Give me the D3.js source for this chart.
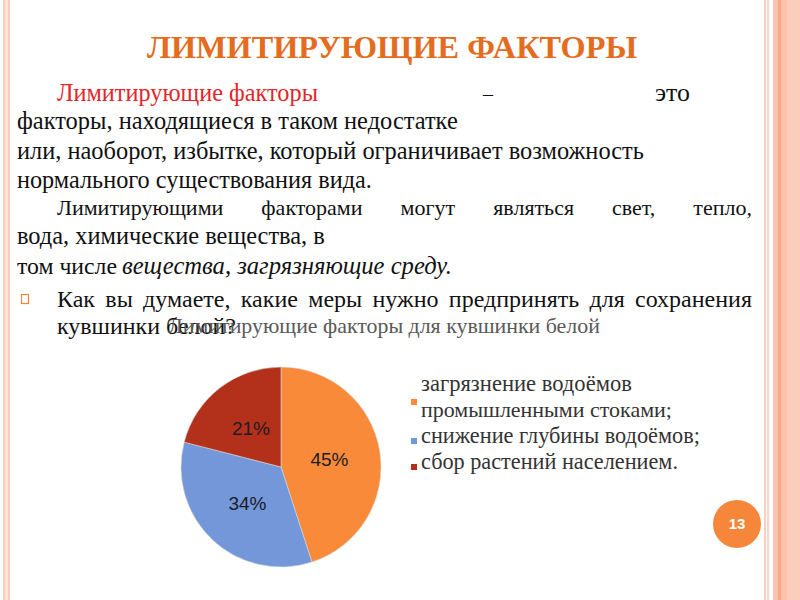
<!DOCTYPE html>
<html lang="ru">
<head>
<meta charset="UTF-8">
<script src="https://d3js.org/d3.v7.min.js"></script>
</head>
<body style="margin:0">
<script>
  // chart data
  const categories = [
    ["загрязнение водоёмов", "промышленными стоками;"],
    ["снижение глубины водоёмов;"],
    ["сбор растений населением."]
  ];
  const values = [45, 34, 21];
  const colours = ["#F88A3A", "#7397D8", "#B3311A"];
  const chartTitle = "Лимитирующие факторы для кувшинки белой";
  const slideTitle = "ЛИМИТИРУЮЩИЕ ФАКТОРЫ";
  const pageNumber = "13";

  const SERIF = "Liberation Serif";
  const SANS = "Liberation Sans";

  const width = 800, height = 600;

  const svg = d3.select("body").append("svg")
    .attr("width", width)
    .attr("height", height);

  // scale the font size of each text so it spans the width seen on the slide
  function fit(sel, base) {
    sel.each(function (d) {
      const t = d3.select(this).attr("font-size", base);
      const len = this.getComputedTextLength();
      const k = Math.max(0.8, Math.min(1.25, d.w / len));
      t.attr("font-size", (base * k).toFixed(2));
    });
  }

  // side stripes of the slide frame
  const stripes = [
    { x: 3, w: 7, c: "#FBCDBD" },
    { x: 5, w: 3, c: "#FDE3DA" },
    { x: 764, w: 2, c: "#FBCDBD" },
    { x: 767, w: 2, c: "#FBD5C8" },
    { x: 773, w: 27, c: "#FBC3AE" },
    { x: 778, w: 3, c: "#F6A98B" },
    { x: 787, w: 13, c: "#FCCDBB" }
  ];
  svg.selectAll("rect.stripe")
    .data(stripes)
    .enter()
    .append("rect")
    .attr("class", "stripe")
    .attr("x", d => d.x)
    .attr("y", 0)
    .attr("width", d => d.w)
    .attr("height", height)
    .attr("fill", d => d.c);

  // slide heading
  svg.selectAll("text.heading")
    .data([{ t: slideTitle, w: 490 }])
    .enter()
    .append("text")
    .attr("class", "heading")
    .attr("x", 147)
    .attr("y", 58)
    .attr("font-family", SERIF)
    .attr("font-weight", "bold")
    .attr("fill", "#E46C1E")
    .text(d => d.t)
    .call(fit, 33);

  // body text lines
  const bodyLines = [
    { t: "Лимитирующие факторы", x: 57, y: 101, w: 261, c: "#E3262A" },
    { t: "–", x: 483, y: 101, w: 10 },
    { t: "это", x: 655, y: 101, w: 35 },
    { t: "факторы, находящиеся в таком недостатке", x: 17, y: 129, w: 441 },
    { t: "или, наоборот, избытке, который ограничивает возможность", x: 17, y: 159, w: 627 },
    { t: "нормального существования вида.", x: 17, y: 188, w: 355 },
    { t: "Лимитирующими факторами могут являться свет, тепло,", x: 57, y: 215, w: 695, j: true },
    { t: "вода, химические вещества, в", x: 17, y: 244, w: 308 },
    { t: "том числе", x: 17, y: 274, w: 100 },
    { t: "вещества, загрязняющие среду.", x: 122, y: 274, w: 330, i: true },
    { t: "Как вы думаете, какие меры нужно предпринять для сохранения", x: 57, y: 307, w: 695, j: true, s: 24 },
    { t: "кувшинки белой?", x: 57, y: 334, w: 179, s: 24 }
  ];

  function styleBody(sel) {
    sel.attr("font-family", SERIF)
      .attr("font-style", d => d.i ? "italic" : "normal")
      .attr("fill", d => d.c || "#111");
  }

  // plain lines
  svg.selectAll("text.plain")
    .data(bodyLines.filter(d => !d.j))
    .enter()
    .append("text")
    .attr("class", "plain")
    .call(styleBody)
    .attr("x", d => d.x)
    .attr("y", d => d.y)
    .text(d => d.t)
    .each(function (d) { fit(d3.select(this), d.s || 22); });

  // justified lines: spread the words over the full width
  bodyLines.filter(d => d.j).forEach(line => {
    const words = line.t.split(" ");
    const size = line.s || 22;
    const ts = svg.selectAll(null)
      .data(words.map(w => Object.assign({}, line, { t: w })))
      .enter()
      .append("text")
      .call(styleBody)
      .attr("font-size", size)
      .attr("y", line.y)
      .text(d => d.t);
    let lens = ts.nodes().map(n => n.getComputedTextLength());
    const total = d3.sum(lens);
    const minGap = 6 * (words.length - 1);
    if (total + minGap > line.w) {
      const k = (line.w - minGap) / total;
      ts.attr("font-size", (size * k).toFixed(2));
      lens = ts.nodes().map(n => n.getComputedTextLength());
    }
    const gap = (line.w - d3.sum(lens)) / (words.length - 1);
    let x = line.x;
    ts.each(function (d, k) {
      d3.select(this).attr("x", x);
      x += lens[k] + gap;
    });
  });

  // bullet box
  svg.append("rect")
    .attr("x", 21.5)
    .attr("y", 294.5)
    .attr("width", 7)
    .attr("height", 9)
    .attr("fill", "none")
    .attr("stroke", "#F0883A")
    .attr("stroke-width", 1.2);

  // chart title
  svg.selectAll("text.ctitle")
    .data([{ t: chartTitle, w: 432 }])
    .enter()
    .append("text")
    .attr("class", "ctitle")
    .attr("x", 168)
    .attr("y", 333)
    .attr("font-family", SERIF)
    .attr("fill", "#595959")
    .text(d => d.t)
    .call(fit, 20);

  // pie
  const cx = 281, cy = 467, r = 100;
  const pie = d3.pie().sort(null).value(d => d);
  const arcs = pie(values);
  const arc = d3.arc().innerRadius(0).outerRadius(r);
  const labelArc = d3.arc().innerRadius(r * 0.49).outerRadius(r * 0.49);

  const g = svg.append("g").attr("transform", `translate(${cx},${cy})`);

  g.selectAll("path")
    .data(arcs)
    .enter()
    .append("path")
    .attr("d", arc)
    .attr("fill", (d, i) => colours[i])
    .attr("stroke", "#d8d8d8")
    .attr("stroke-width", 0.6);

  g.selectAll("text")
    .data(arcs)
    .enter()
    .append("text")
    .attr("transform", d => `translate(${labelArc.centroid(d)})`)
    .attr("text-anchor", "middle")
    .attr("dy", "0.36em")
    .attr("font-family", SANS)
    .attr("font-size", 19)
    .attr("fill", "#1c1c28")
    .text(d => d.data + "%");

  // legend
  const legendX = 421, lineH = 26;
  let row = 0;
  const legendRows = categories.map((lines, i) => {
    const r0 = row;
    row += lines.length;
    return { lines, i, r0 };
  });
  const legend = svg.append("g").attr("transform", "translate(0,391)");

  legend.selectAll("rect")
    .data(legendRows)
    .enter()
    .append("rect")
    .attr("x", legendX - 10)
    .attr("y", d => (d.r0 + (d.lines.length - 1) / 2) * lineH - 5)
    .attr("width", 6)
    .attr("height", 6)
    .attr("fill", d => colours[d.i]);

  const legendWidths = [211, 251, 279, 257];
  const flat = [];
  legendRows.forEach(d => d.lines.forEach((t, k) => flat.push({ t, r: d.r0 + k, w: legendWidths[d.r0 + k] })));
  legend.selectAll("text")
    .data(flat)
    .enter()
    .append("text")
    .attr("x", legendX)
    .attr("y", d => d.r * lineH)
    .attr("font-family", SERIF)
    .attr("fill", "#333")
    .text(d => d.t)
    .call(fit, 20);

  // page number
  svg.append("circle")
    .attr("cx", 737)
    .attr("cy", 524)
    .attr("r", 24)
    .attr("fill", "#F6873A");
  svg.append("text")
    .attr("x", 737)
    .attr("y", 524)
    .attr("dy", "0.36em")
    .attr("text-anchor", "middle")
    .attr("font-family", SANS)
    .attr("font-weight", "bold")
    .attr("font-size", 15)
    .attr("fill", "#fff")
    .text(pageNumber);
</script>
</body>
</html>
